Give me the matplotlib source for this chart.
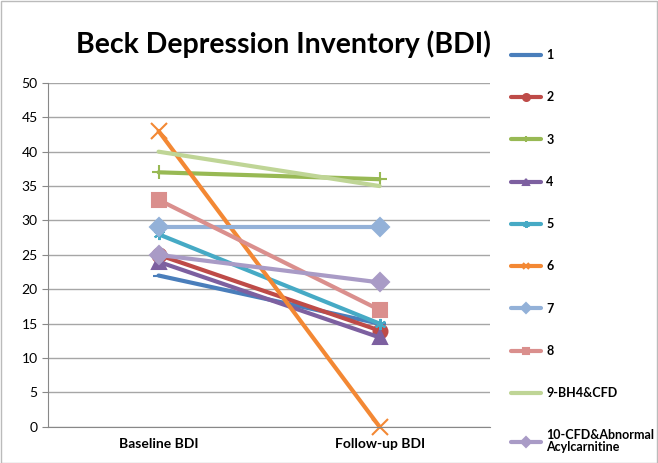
import matplotlib
matplotlib.use("Agg")
import matplotlib.pyplot as plt
from matplotlib.patches import Rectangle

plt.rcParams['font.family'] = ['Lato', 'DejaVu Sans']

categories = ['Baseline BDI', 'Follow-up BDI']
labels = ['1', '2', '3', '4', '5', '6', '7', '8', '9-BH4&CFD',
          '10-CFD&Abnormal\nAcylcarnitine']
baseline = [22, 25, 37, 24, 28, 43, 29, 33, 40, 25]
followup = [15, 14, 36, 13, 15, 0, 29, 17, 35, 21]

colors = ['#4A7EBB', '#BE4B48', '#98B954', '#7D60A0', '#46AAC5',
          '#F38834', '#93B1D8', '#DA8F8D', '#BFD596', '#A99BC6']
markers = ['_', 'o', '+', '^', (6, 2, 0), 'x', 'D', 's', 'None', 'D']
msizes = [9, 10, 10, 10, 8, 12, 9, 10, 0, 9]

fig = plt.figure(figsize=(6.58, 4.63), dpi=100)
ax = fig.add_axes([0.073, 0.078, 0.672, 0.743])

x = [0, 1]
handles = []
for i in range(len(labels)):
    h, = ax.plot(x, [baseline[i], followup[i]], color=colors[i], lw=3,
                 marker=markers[i], markersize=msizes[i], markeredgewidth=1.5,
                 solid_capstyle='round', label=labels[i], clip_on=False)
    handles.append(h)

ax.set_xlim(-0.5, 1.5)
ax.set_ylim(0, 50)
ax.set_yticks(range(0, 51, 5))
ax.set_xticks(x)
ax.set_xticklabels(categories, fontweight='bold', fontsize=10)
ax.tick_params(axis='x', length=0, pad=8)
ax.tick_params(axis='y', length=4, color='#888888', labelsize=10)
ax.yaxis.grid(True, color='#a6a6a6', lw=1)
ax.set_axisbelow(True)
for s in ['top', 'right']:
    ax.spines[s].set_visible(False)
for s in ['left', 'bottom']:
    ax.spines[s].set_color('#888888')

fig.text(0.43, 0.905, 'Beck Depression Inventory (BDI)', ha='center',
         va='center', fontsize=20.5, fontweight='bold')

leg = fig.legend(handles=handles, loc='upper left',
                 bbox_to_anchor=(0.76, 0.918), frameon=False,
                 handlelength=2.4, handletextpad=0.4, labelspacing=2.42,
                 prop={'weight': 'bold', 'size': 9})
for t in leg.get_texts():
    t.set_linespacing(1.0)
for h in leg.legend_handles:
    h.set_markersize(5)

fig.add_artist(Rectangle((0.001, 0.001), 0.997, 0.997, transform=fig.transFigure,
                         fill=False, edgecolor='#bbbbbb', lw=1))

fig.savefig('out.png', dpi=100)
